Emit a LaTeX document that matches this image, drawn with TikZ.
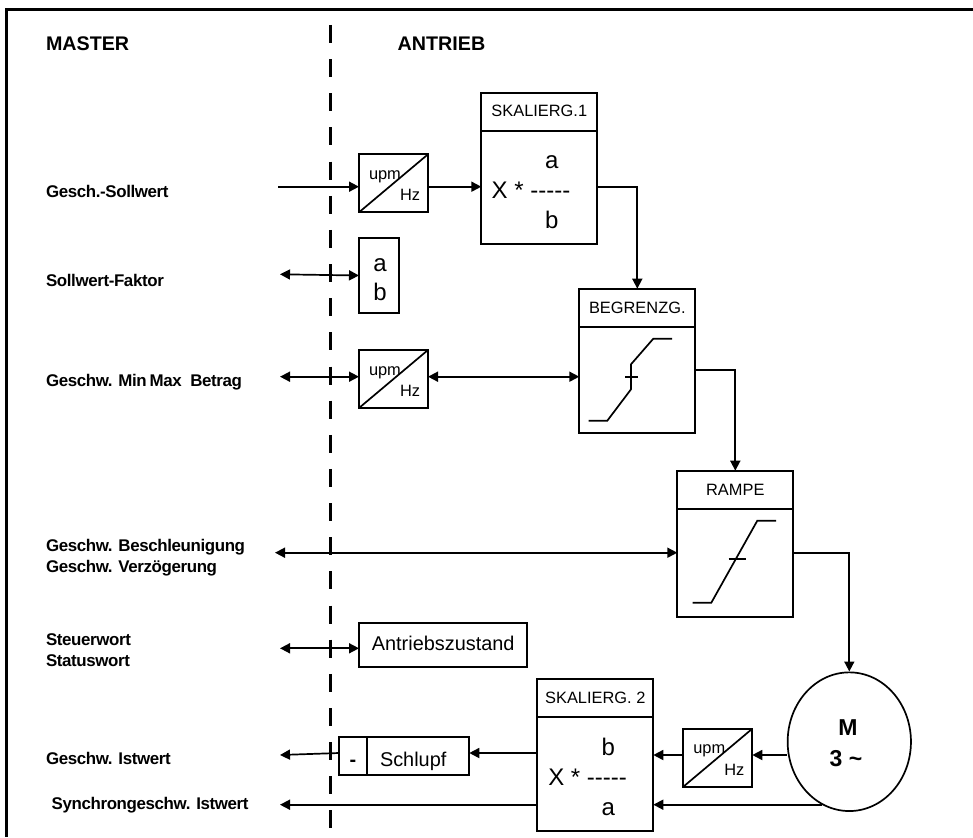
\documentclass[tikz,border=0pt]{standalone}
\usepackage{fontspec}
\setmainfont{Liberation Sans}
\usetikzlibrary{arrows.meta,shapes.geometric}
\tikzset{
  >={Triangle[length=10pt,width=10pt]},
  line/.style={line width=1.7pt},
  boxed/.style={draw,line width=1.8pt,inner sep=0pt,outer sep=0pt,anchor=north west},
  txt/.style={inner sep=0pt,outer sep=0pt,anchor=base west},
  ctxt/.style={inner sep=0pt,outer sep=0pt,anchor=base},
  lab/.style={txt,font=\fontsize{16.9}{20}\selectfont\bfseries\addfontfeature{LetterSpace=-2.2}},
  title/.style={txt,font=\fontsize{19.7}{22}\selectfont\bfseries},
  small/.style={font=\fontsize{16.4}{18}\selectfont},
  mid/.style={font=\fontsize{19.9}{22}\selectfont},
  big/.style={font=\fontsize{24}{26}\selectfont},
}
\begin{document}
\begin{tikzpicture}[x=1pt,y=-1pt]
\useasboundingbox (0,0) rectangle (973,837);
\coordinate (fr0) at (973,9.5); \coordinate (fr1) at (6.5,9.5); \coordinate (fr2) at (6.5,837);
\draw[line width=3pt] (fr0)--(fr1)--(fr2);
\coordinate (sep0) at (330.7,25); \coordinate (sep1) at (330.7,828);
\draw[line width=3pt,dash pattern=on 18pt off 16.15pt] (sep0)--(sep1);
\node[title] (master) at (46,51) {MASTER};
\node[title] (antrieb) at (397.7,51) {ANTRIEB};
\foreach \nm/\xx/\yy/\lab in {sollw/46/197.3/Gesch.-Sollwert,faktor/46/286.7/Sollwert-Faktor,
  minmax/46/386.7/Geschw. Min\,Max\ \ Betrag,beschl/46/551/Geschw. Beschleunigung,
  verz/46/572.3/Geschw. Verzögerung,steuer/46/645/Steuerwort,status/46/666.7/Statuswort,
  istw/46/764.3/Geschw. Istwert,synchr/51.7/809/Synchrongeschw. Istwert}{
\node[lab] (\nm) at (\xx,\yy) {\lab};}
\foreach \nm/\xx/\yy/\lab/\hh in {skala/481.3/92.7/SKALIERG.1/113.6,begr/579.3/288.7/BEGRENZG./106,
  rampe/677.3/470.7/RAMPE/108,skalb/537.3/678.7/SKALIERG. 2/114}{
\node[boxed,minimum width=116pt,minimum height=38pt] (\nm-t) at (\xx,\yy) {};
\node[boxed,minimum width=116pt,minimum height=\hh pt] (\nm) at (\xx,\yy+38) {};
\node[ctxt,small] (\nm-l) at (\xx+58,\yy+24.3) {\lab};}
\foreach \nm/\xx/\yy in {upma/359/154.3,upmb/359/350,upmc/683.3/728.7}{
\node[boxed,minimum width=69pt,minimum height=58pt] (\nm) at (\xx,\yy) {};
\draw[line] (\nm.south west)--(\nm.north east);
\node[txt,small] (\nm-u) at (\xx+10,\yy+25) {upm};
\node[txt,small] (\nm-h) at (\xx+41,\yy+46.5) {Hz};}
\foreach \nm/\xx/\yy/\ua/\ub in {fa/491.7/198/a/b,fb/548.3/785/b/a}{
\node[txt,big] (\nm-x) at (\xx,\yy) {X * -{}-{}-{}-{}-};
\node[ctxt,big] (\nm-u) at (\xx+60,\yy-29.5) {\ua};
\node[ctxt,big] (\nm-v) at (\xx+60,\yy+30) {\ub};}
\node[boxed,minimum width=40.3pt,minimum height=74.4pt] (ab) at (359,238.3) {};
\node[ctxt,big] (ab-a) at (380,271) {a};
\node[ctxt,big] (ab-b) at (380,300.7) {b};
\node[boxed,minimum width=168.3pt,minimum height=44pt] (zust) at (359,622.7) {};
\node[ctxt,mid] (zust-l) at (443.2,650.7) {Antriebszustand};
\node[boxed,minimum width=28.3pt,minimum height=38pt] (minus) at (339,736.7) {};
\node[boxed,minimum width=102pt,minimum height=38pt] (schl) at (367.3,736.7) {};
\node[ctxt,mid] (minus-l) at (353,766) {\bfseries -};
\node[txt,mid] (schl-l) at (380,766.7) {Schlupf};
\node[draw,line,ellipse,inner sep=0pt,minimum width=123.3pt,minimum height=138.7pt] (motor) at (849.3,741.7) {};
\node[ctxt,font=\fontsize{23}{26}\selectfont\bfseries] (motor-m) at (848,735) {M};
\node[ctxt,font=\fontsize{23}{26}\selectfont\bfseries] (motor-n) at (846,766.7) {3 \textasciitilde};
\draw[line] (588.7,420.7)--(607.3,420.7)--(631,389.3)--(631,364.3)--(653.3,338.7)--(672,338.7);
\draw[line] (625,376.7)--(637.7,376.7);
\draw[line] (692.7,602.7)--(711.3,602.7)--(757.3,520.7)--(776,520.7);
\draw[line] (728.7,558.7)--(746,558.7);
\coordinate (ina) at (278,186.7);
\coordinate (inb) at (280,274.3);
\coordinate (inc) at (280,376.7);
\coordinate (ind) at (275,552.7);
\coordinate (ine) at (280,648.3);
\coordinate (inf) at (280,755);
\coordinate (ing) at (280,804.7);
\coordinate (rowf) at (0,753);
\coordinate (rowm) at (0,755);
\coordinate (rowb) at (0,370);
\coordinate (motb) at (821.7,804.7);
\draw[line,->] (ina)--(upma.west|-ina);
\draw[line,->] (upma.east|-ina)--(skala.west|-ina);
\draw[line,->] (skala.east|-ina)-|(begr-t.north);
\draw[line,<->] (inb)--(ab.west);
\draw[line,<->] (inc)--(upmb.west|-inc);
\draw[line,<->] (upmb.east|-inc)--(begr.west|-inc);
\draw[line,->] (begr.east|-rowb)-|(rampe-t.north);
\draw[line,<->] (ind)--(rampe.west|-ind);
\draw[line,->] (rampe.east|-ind)-|(motor.north);
\draw[line,<->] (ine)--(zust.west|-ine);
\draw[line,->] (motor.west|-rowm)--(upmc.east|-rowm);
\draw[line,->] (upmc.west|-rowm)--(skalb.east|-rowm);
\draw[line,->] (skalb.west|-rowf)--(schl.east|-rowf);
\draw[line,->] (minus.west|-rowf)--(inf);
\draw[line,->] (motb)--(skalb.east|-motb);
\draw[line,->] (skalb.west|-ing)--(ing);
\end{tikzpicture}
\end{document}
